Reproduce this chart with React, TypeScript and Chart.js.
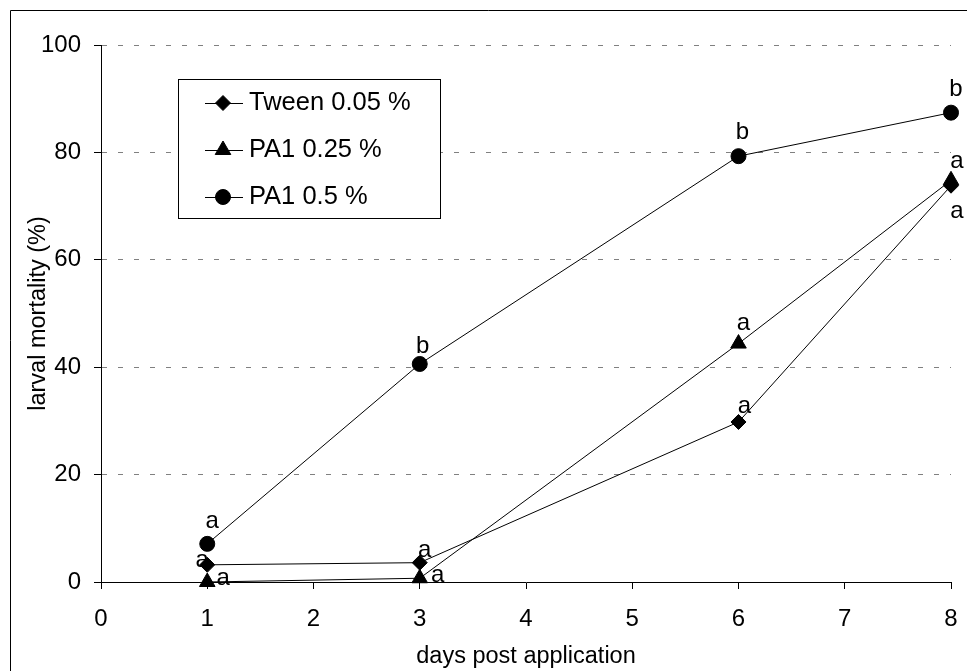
import React, { useEffect, useRef } from "react";
import { Chart, registerables } from "chart.js";
import { drawPoint } from "chart.js/helpers";

Chart.register(...registerables);

// ---- data ----
const days = [1, 3, 6, 8];
const seriesNames = ["Tween 0.05 %", "PA1 0.25 %", "PA1 0.5 %"];
const tweenValues = [3.2, 3.6, 29.8, 73.8];
const pa025Values = [0, 0.7, 44.4, 74.8];
const pa05Values = [7.1, 40.6, 79.3, 87.4];
const tweenLetters = ["a", "a", "a", "a"];
const pa025Letters = ["a", "a", "a", "a"];
const pa05Letters = ["a", "b", "b", "b"];
const xTickValues = [0, 1, 2, 3, 4, 5, 6, 7, 8];
const yTickValues = [0, 20, 40, 60, 80, 100];
const xTitle = "days post application";
const yTitle = "larval mortality (%)";

const FONT = "'Liberation Sans', Arial, sans-serif";
const TICK_FS = 24;
const TITLE_FS = 23.5;
const LEGEND_FS = 25.5;
const LETTER_FS = 24;

// letter offsets (style) per series, per point [dx, dy]
const letterOffsets = [
  [[-5, -4], [5, -12], [6, -16], [6, 26]],
  [[16, -4], [18, -3], [5, -20], [6, -19]],
  [[5, -22], [3, -18], [4, -24], [5, -23]],
];

const overlayPlugin = {
  id: "overlay",
  afterDraw(chart: any) {
    const ctx = chart.ctx;
    ctx.save();
    // outer frame (only top & left visible)
    ctx.strokeStyle = "#000";
    ctx.lineWidth = 1;
    ctx.beginPath();
    ctx.moveTo(10.5, 671);
    ctx.lineTo(10.5, 10.5);
    ctx.lineTo(967, 10.5);
    ctx.stroke();

    // letters
    ctx.fillStyle = "#000";
    ctx.font = `${LETTER_FS}px ${FONT}`;
    ctx.textAlign = "center";
    ctx.textBaseline = "middle";
    chart.data.datasets.forEach((ds: any, i: number) => {
      const meta = chart.getDatasetMeta(i);
      meta.data.forEach((pt: any, j: number) => {
        const [dx, dy] = letterOffsets[i][j];
        ctx.fillText(ds.letters[j], pt.x + dx, pt.y + dy);
      });
    });

    // legend box
    const bx = 178.5, by = 79.5, bw = 262, bh = 139;
    ctx.fillStyle = "#fff";
    ctx.fillRect(bx, by, bw, bh);
    ctx.strokeStyle = "#000";
    ctx.strokeRect(bx, by, bw, bh);
    const rowYs = [103, 150, 197];
    chart.data.datasets.forEach((ds: any, i: number) => {
      const y = rowYs[i];
      ctx.strokeStyle = "#000";
      ctx.lineWidth = 1;
      ctx.beginPath();
      ctx.moveTo(205, y + 0.5);
      ctx.lineTo(243, y + 0.5);
      ctx.stroke();
      ctx.fillStyle = "#000";
      drawPoint(ctx, { pointStyle: ds.pointStyle, radius: ds.pointRadius, borderWidth: 1, rotation: 0 }, 223, y);
      ctx.fillStyle = "#000";
      ctx.textAlign = "left";
      ctx.textBaseline = "middle";
      ctx.font = `${LEGEND_FS}px ${FONT}`;
      ctx.fillText(ds.label, 249, y);
    });
    ctx.restore();
  },
};

export default function App() {
  const ref = useRef<HTMLCanvasElement>(null);
  useEffect(() => {
    if (!ref.current) return;
    const mk = (label: string, vals: number[], letters: string[], style: string, r: number) => ({
      label,
      data: days.map((d, i) => ({ x: d, y: vals[i] })),
      letters,
      borderColor: "#000",
      backgroundColor: "#000",
      borderWidth: 1,
      pointStyle: style,
      pointRadius: r,
      pointHoverRadius: r,
      pointBackgroundColor: "#000",
      pointBorderColor: "#000",
      pointBorderWidth: 1,
      tension: 0,
      clip: false,
    });
    const chart = new Chart(ref.current, {
      type: "line",
      data: {
        datasets: [
          mk(seriesNames[0], tweenValues, tweenLetters, "rectRot", 7.5),
          mk(seriesNames[1], pa025Values, pa025Letters, "triangle", 9),
          mk(seriesNames[2], pa05Values, pa05Letters, "circle", 7.5),
        ] as any,
      },
      options: {
        animation: false,
        responsive: false,
        devicePixelRatio: 1,
        layout: { padding: { left: 0, top: 45, right: 16, bottom: 0 } },
        plugins: { legend: { display: false }, tooltip: { enabled: false } },
        events: [],
        scales: {
          x: {
            type: "linear",
            min: 0,
            max: 8,
            afterFit: (s: any) => { s.height = 89; s.paddingLeft = 0; s.paddingRight = 0; },
            afterBuildTicks: (s: any) => { s.ticks = xTickValues.map((v) => ({ value: v })); },
            ticks: { color: "#000", font: { family: FONT, size: TICK_FS }, padding: 16, maxRotation: 0 },
            grid: { drawOnChartArea: false, drawTicks: true, tickLength: 7, tickColor: "#000", color: "#000" },
            border: { display: true, color: "#000", width: 1 },
            title: { display: true, text: xTitle, color: "#000", font: { family: FONT, size: TITLE_FS }, padding: { top: 0, bottom: 0 } },
          },
          y: {
            type: "linear",
            min: 0,
            max: 100,
            afterFit: (s: any) => { s.width = 101; s.paddingTop = 0; s.paddingBottom = 0; },
            afterBuildTicks: (s: any) => { s.ticks = yTickValues.map((v) => ({ value: v })); },
            ticks: { color: "#000", font: { family: FONT, size: TICK_FS }, padding: 13 },
            grid: {
              drawOnChartArea: true,
              tickLength: 7,
              tickColor: "#000",
              color: (c: any) => (c.tick && c.tick.value === 0 ? "rgba(0,0,0,0)" : "#808080"),
            },
            border: { display: true, color: "#000", width: 1, dash: [5, 11] },
            title: { display: true, text: yTitle, color: "#000", font: { family: FONT, size: TITLE_FS }, padding: { top: 24, bottom: 0 } },
          },
        },
      } as any,
      plugins: [overlayPlugin],
    });
    return () => chart.destroy();
  }, []);
  return (
    <div style={{ position: "absolute", left: 0, top: 0, width: 967, height: 671, background: "#fff" }}>
      <canvas ref={ref} width={967} height={671} style={{ display: "block" }} />
    </div>
  );
}
